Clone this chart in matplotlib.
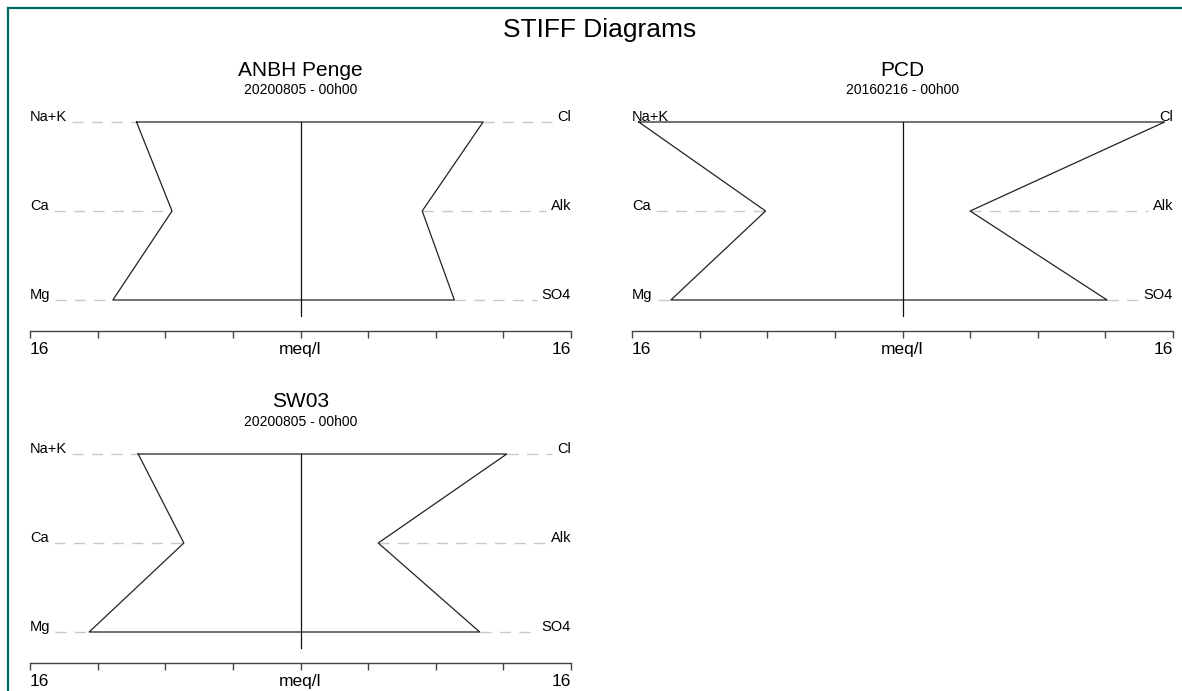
import numpy as np
import matplotlib
matplotlib.use('Agg')
import matplotlib.pyplot as plt
from matplotlib.lines import Line2D

plt.rcParams['font.family'] = ['Liberation Sans', 'DejaVu Sans']

# 样本数据 (meq/l)
samples = ['ANBH Penge', 'PCD', 'SW03']
dates = ['20200805 - 00h00', '20160216 - 00h00', '20200805 - 00h00']
na_k = [9.7, 15.6, 9.6]
ca = [7.6, 8.1, 6.9]
mg = [11.1, 13.7, 12.5]
cl = [10.8, 15.5, 12.2]
alk = [7.2, 4.0, 4.6]
so4 = [9.1, 12.1, 10.6]
cations = ['Na+K', 'Ca', 'Mg']
anions = ['Cl', 'Alk', 'SO4']
scale_max = 16
tick_labels = ['16', '', '', '', 'meq/l', '', '', '', '16']

W, H = 1182, 691
fig = plt.figure(figsize=(W / 100, H / 100), dpi=100)

# 布局 (像素): 左边界, 顶行y, 行距
panels = [(30, 122), (632, 122), (30, 454)]
pw = 541
row_gap = 89
y_lo, y_hi = -0.7, 2.2
axis_y = -0.35

fig.text(600 / W, 1 - 30 / H, 'STIFF Diagrams', ha='center', va='center', fontsize=19)

# 外框
border = '#00695f'
fig.add_artist(Line2D([8 / W, 8 / W], [0, 1 - 8 / H], color=border, lw=1.6))
fig.add_artist(Line2D([8 / W, 1], [1 - 8 / H, 1 - 8 / H], color=border, lw=1.6))

axes = []
for i, (px, py) in enumerate(panels):
    top_px = py - (y_hi - 2) * row_gap
    h_px = (y_hi - y_lo) * row_gap
    ax = fig.add_axes([px / W, 1 - (top_px + h_px) / H, pw / W, h_px / H])
    ax.set_xlim(-scale_max, scale_max)
    ax.set_ylim(y_lo, y_hi)
    ax.patch.set_alpha(0)
    for s in ['top', 'left', 'right']:
        ax.spines[s].set_visible(False)
    ax.spines['bottom'].set_position(('data', axis_y))
    ax.spines['bottom'].set_color('#444444')
    ax.spines['bottom'].set_linewidth(1)
    ax.set_yticks([])
    ax.set_xticks(np.arange(-scale_max, scale_max + 1, 4))
    ax.set_xticklabels(tick_labels, fontsize=12.5)
    ax.tick_params(axis='x', direction='out', length=5, width=1, color='#444444', pad=3)
    tl = ax.get_xticklabels()
    tl[0].set_ha('left')
    tl[-1].set_ha('right')

    # 多边形
    xs = [-na_k[i], -ca[i], -mg[i], so4[i], alk[i], cl[i], -na_k[i]]
    ys = [2, 1, 0, 0, 1, 2, 2]
    ax.plot(xs, ys, color='#222222', lw=0.9, zorder=3)
    ax.plot([0, 0], [2, -0.18], color='#111111', lw=0.9, zorder=3)

    # 标题
    cx = (px + pw / 2) / W
    fig.text(cx, 1 - (py - 52) / H, samples[i], ha='center', va='center', fontsize=15)
    fig.text(cx, 1 - (py - 32) / H, dates[i], ha='center', va='center', fontsize=10)
    axes.append(ax)

# 离子标签和虚线
fig.canvas.draw()
renderer = fig.canvas.get_renderer()
for i, ax in enumerate(axes):
    left_vals = [na_k[i], ca[i], mg[i]]
    right_vals = [cl[i], alk[i], so4[i]]
    inv = ax.transData.inverted()
    for k, yrow in enumerate([2, 1, 0]):
        t = ax.text(-scale_max, yrow + 0.01, cations[k], ha='left', va='baseline', fontsize=10.5)
        bb = t.get_window_extent(renderer)
        x_end = inv.transform((bb.x1 + 5, 0))[0]
        if x_end < -left_vals[k]:
            ax.plot([x_end, -left_vals[k]], [yrow, yrow], color='#c8c8c8', lw=1,
                    dashes=(8, 6), zorder=2)
        t = ax.text(scale_max, yrow + 0.01, anions[k], ha='right', va='baseline', fontsize=10.5)
        bb = t.get_window_extent(renderer)
        x_start = inv.transform((bb.x0 - 5, 0))[0]
        if x_start > right_vals[k]:
            ax.plot([right_vals[k], x_start], [yrow, yrow], color='#c8c8c8', lw=1,
                    dashes=(8, 6), zorder=2)

fig.savefig('out.png', dpi=100)
